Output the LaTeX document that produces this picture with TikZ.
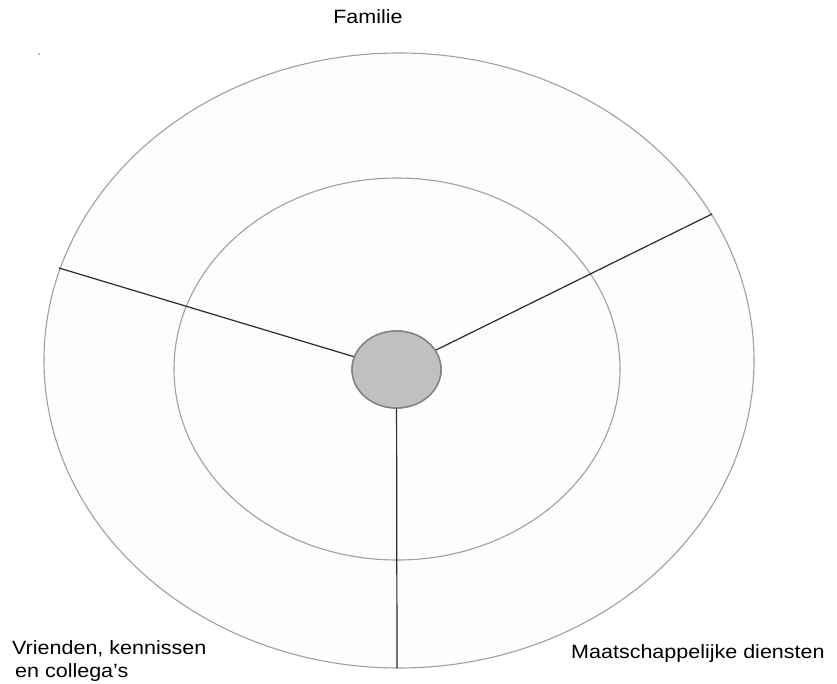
\documentclass[tikz,border=0pt]{standalone}
\usepackage{fontspec}
\setmainfont{Liberation Sans}[FakeStretch=1.12]
\usetikzlibrary{shapes.geometric}
\definecolor{ringline}{HTML}{A0A0A0}
\definecolor{ringfill}{HTML}{FDFDFD}
\definecolor{spoke}{HTML}{2A2A2A}
\definecolor{hubfill}{HTML}{C0C0C0}
\definecolor{hubline}{HTML}{808080}
\tikzset{
  ring/.style={ellipse, draw=ringline, line width=1.1pt, fill=ringfill, inner sep=0pt, outer sep=0pt},
  hub/.style={ellipse, draw=hubline, line width=1.4pt, fill=hubfill, inner sep=0pt, outer sep=0pt},
  spokeline/.style={draw=spoke, line width=1.2pt},
  lbl/.style={font=\fontsize{19.2}{23}\selectfont, inner sep=0pt}
}
\begin{document}
\begin{tikzpicture}[x=1pt,y=-1pt]
\useasboundingbox (0,0) rectangle (837,684);
\fill[white] (0,0) rectangle (837,684);
\node[ring, minimum width=710pt, minimum height=615pt] (outer) at (399,360.5) {};
\node[ring, minimum width=446pt, minimum height=382pt] (inner) at (397,369) {};
\coordinate (pl) at (59,268);
\coordinate (pr) at (712,214);
\coordinate (pb) at (397,668);
\node[hub, minimum width=89pt, minimum height=77pt] (hub) at (396.5,369.5) {};
\draw[spokeline] (pl) -- (hub);
\draw[spokeline] (pr) -- (hub);
\draw[spokeline] (pb) -- (hub);
\node[hub, minimum width=89pt, minimum height=77pt] at (396.5,369.5) {};
\fill[gray] (39,54) circle (0.8pt);
\node[lbl, anchor=base] (fam) at (368,24) {Familie};
\node[lbl, anchor=base west] (maat) at (571,658) {Maatschappelijke diensten};
\node[lbl, anchor=base west, align=left] (vri) at (12,677) {Vrienden, kennissen\\\hspace{3pt}en collega’s};
\end{tikzpicture}
\end{document}
